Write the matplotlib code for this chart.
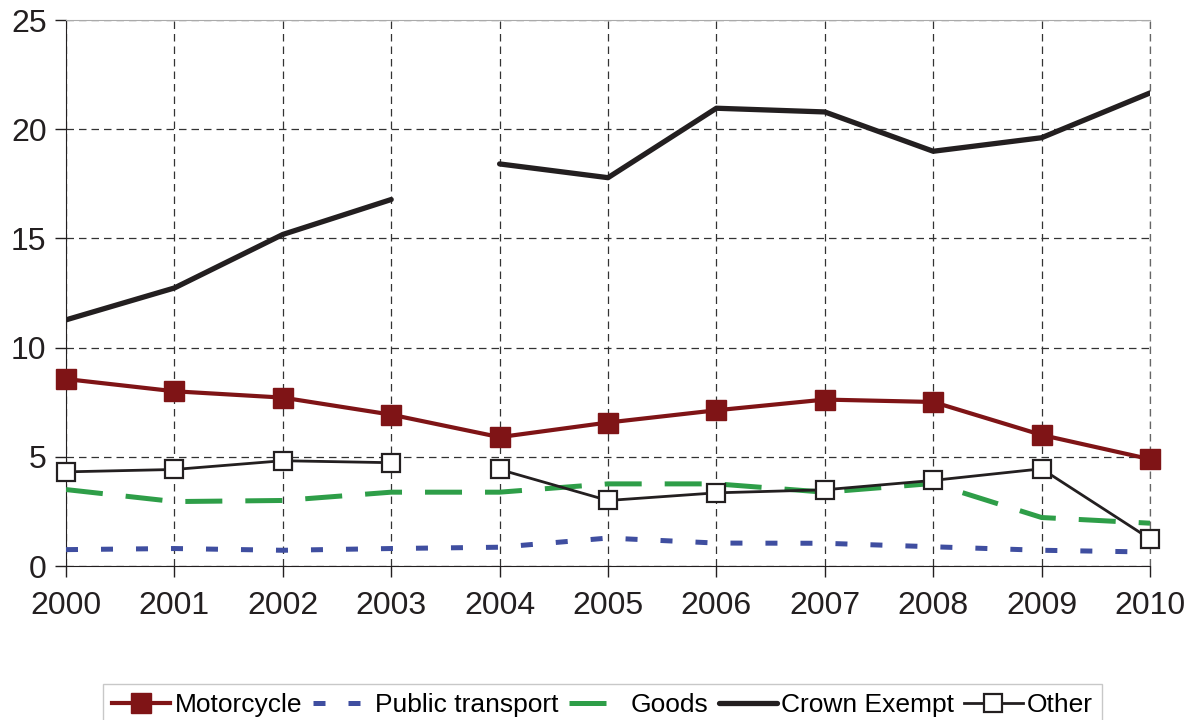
import matplotlib
matplotlib.use('Agg')
import matplotlib.pyplot as plt
import numpy as np

years = [2000, 2001, 2002, 2003, 2004, 2005, 2006, 2007, 2008, 2009, 2010]
motorcycle = [8.56, 8.0, 7.71, 6.93, 5.9, 6.57, 7.13, 7.62, 7.51, 6.0, 4.89]
public_transport = [0.75, 0.8, 0.72, 0.8, 0.86, 1.28, 1.05, 1.04, 0.88, 0.72, 0.64]
goods = [3.5, 2.95, 3.0, 3.38, 3.38, 3.76, 3.76, 3.38, 3.78, 2.22, 1.96]
crown_exempt = [11.27, 12.73, 15.18, 16.78, 18.41, 17.78, 20.96, 20.79, 18.99, 19.61, 21.66]
other = [4.31, 4.42, 4.82, 4.73, 4.42, 3.0, 3.35, 3.49, 3.92, 4.45, 1.24]
# series break between 2003 and 2004 (index where the second piece starts)
brk = 4

plt.rcParams['font.family'] = ['Liberation Sans', 'DejaVu Sans']

fig = plt.figure(figsize=(11.93, 7.2), dpi=100)
ax = fig.add_axes([66/1193, 1-566/720, (1150-66)/1193, (566-20)/720])

ax.plot(years, public_transport, color='#3f4ea0', lw=3.6, dashes=(2.4, 4.6),
        dash_capstyle='butt', label='Public transport', zorder=3)
ax.plot(years, goods, color='#2e9e48', lw=3.6, dashes=(7.4, 4.6),
        dash_capstyle='butt', label='Goods', zorder=3)
ax.plot(years[:brk], crown_exempt[:brk], color='#231f20', lw=3.8,
        solid_capstyle='round', zorder=4)
ax.plot(years[brk:], crown_exempt[brk:], color='#231f20', lw=3.8,
        solid_capstyle='round', label='Crown Exempt', zorder=4)
ax.plot(years, motorcycle, color='#7f1416', lw=3.0, marker='s', ms=15,
        mec='#7f1416', label='Motorcycle', zorder=5, clip_on=False)
ax.plot(years[:brk], other[:brk], color='#231f20', lw=2.0, marker='s', ms=13,
        mfc='white', mec='#231f20', mew=1.6, zorder=6, clip_on=False)
ax.plot(years[brk:], other[brk:], color='#231f20', lw=2.0, marker='s', ms=13,
        mfc='white', mec='#231f20', mew=1.6, label='Other', zorder=6, clip_on=False)

ax.set_xlim(2000, 2010)
ax.set_ylim(0, 25)
ax.set_xticks(years)
ax.set_yticks([0, 5, 10, 15, 20, 25])
ax.grid(True, color='#333333', lw=0.9, dashes=(6, 4))
ax.axvline(2010, color='#666666', lw=0.9, dashes=(6, 4), clip_on=False, zorder=1)
ax.set_axisbelow(True)
ax.spines['right'].set_visible(False)
ax.spines['top'].set_color('#aaaaaa')
ax.spines['left'].set_color('#231f20')
ax.spines['bottom'].set_color('#231f20')
ax.tick_params(axis='both', labelsize=23, colors='#231f20', length=8, width=1)
ax.tick_params(axis='x', pad=10)
ax.tick_params(axis='y', pad=6)

handles, labels = ax.get_legend_handles_labels()
order = ['Motorcycle', 'Public transport', 'Goods', 'Crown Exempt', 'Other']
hl = dict(zip(labels, handles))
leg = fig.legend([hl[k] for k in order], order, loc='upper center',
                 bbox_to_anchor=(0.505, 1-684/720), ncol=5, frameon=True,
                 fancybox=False, edgecolor='#bbbbbb',
                 handlelength=2.2, handletextpad=0.15, columnspacing=0.4,
                 borderpad=0.35, borderaxespad=0,
                 prop={'family': ['Liberation Sans Narrow', 'Liberation Sans'], 'size': 19})

fig.savefig('out.png', dpi=100)
